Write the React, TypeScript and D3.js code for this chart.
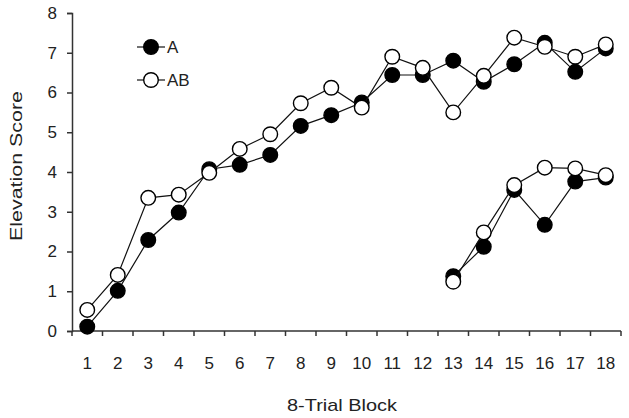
import React, { useEffect, useRef } from 'react';
import * as d3 from 'd3';

// blocks 1..18
const blocks = d3.range(1, 19).map(String);
const yTicks = [0, 1, 2, 3, 4, 5, 6, 7, 8];

// first phase (blocks 1-18)
const seriesA = [0.11, 1.01, 2.29, 2.98, 4.07, 4.18, 4.43, 5.16, 5.43, 5.75, 6.44, 6.44, 6.8, 6.27, 6.71, 7.25, 6.52, 7.11];
const seriesAB = [0.53, 1.41, 3.35, 3.43, 3.98, 4.58, 4.95, 5.73, 6.12, 5.62, 6.9, 6.62, 5.5, 6.42, 7.38, 7.15, 6.9, 7.21];
// second phase (blocks 13-18)
const blocks2 = ['13', '14', '15', '16', '17', '18'];
const seriesA2 = [1.38, 2.12, 3.55, 2.67, 3.76, 3.86];
const seriesAB2 = [1.24, 2.48, 3.67, 4.11, 4.09, 3.92];

const W = 629, H = 418;

export default function App() {
  const ref = useRef<SVGSVGElement>(null);

  useEffect(() => {
    const svg = d3.select(ref.current);
    svg.selectAll('*').remove();
    const font = 'Liberation Sans, Arial, sans-serif';
    const axisColor = '#333';
    const textColor = '#222';

    const x = d3.scaleBand().domain(blocks).range([72, 621]);
    const y = d3.scaleLinear().domain([0, 8]).range([331, 13]);
    const cx = (b: string) => (x(b) as number) + x.bandwidth() / 2;

    // y axis
    const yAxis = svg.append('g').attr('transform', 'translate(72,0)')
      .call(d3.axisLeft(y).tickValues(yTicks).tickSize(5).tickPadding(10).tickFormat(d3.format('d')));
    yAxis.select('.domain').attr('stroke', axisColor).attr('stroke-width', 1.5);
    yAxis.selectAll('line').attr('stroke', axisColor).attr('stroke-width', 1.5);
    yAxis.selectAll('text').attr('font-family', font).attr('font-size', 17).attr('fill', textColor);

    // x axis: ticks at band edges, labels at band centres
    const xg = svg.append('g').attr('transform', 'translate(0,331)');
    xg.append('line').attr('x1', 72).attr('x2', 621).attr('stroke', axisColor).attr('stroke-width', 1.5);
    const edges = blocks.map(b => x(b) as number).concat([621]);
    xg.selectAll('line.tk').data(edges).enter().append('line')
      .attr('class', 'tk').attr('x1', d => d).attr('x2', d => d).attr('y1', 0).attr('y2', 5)
      .attr('stroke', axisColor).attr('stroke-width', 1.5);
    xg.selectAll('text').data(blocks).enter().append('text')
      .attr('x', d => cx(d)).attr('y', 38).attr('text-anchor', 'middle')
      .attr('font-family', font).attr('font-size', 17).attr('fill', textColor).text(d => d);

    // titles
    svg.append('text').attr('x', 342).attr('y', 411).attr('text-anchor', 'middle')
      .attr('font-family', font).attr('font-size', 17).attr('fill', textColor)
      .attr('textLength', 110).attr('lengthAdjust', 'spacingAndGlyphs').text('8-Trial Block');
    svg.append('text').attr('transform', 'translate(22,166) rotate(-90)').attr('text-anchor', 'middle')
      .attr('font-family', font).attr('font-size', 17).attr('fill', textColor)
      .attr('textLength', 150).attr('lengthAdjust', 'spacingAndGlyphs').text('Elevation Score');

    const line = d3.line<[string, number]>().x(d => cx(d[0])).y(d => y(d[1]));

    const drawSeries = (cats: string[], vals: number[], filled: boolean) => {
      const pts = cats.map((c, i) => [c, vals[i]] as [string, number]);
      svg.append('path').datum(pts).attr('d', line).attr('fill', 'none')
        .attr('stroke', '#111').attr('stroke-width', 1.2);
      svg.append('g').selectAll('circle').data(pts).enter().append('circle')
        .attr('cx', d => cx(d[0])).attr('cy', d => y(d[1])).attr('r', 7.3)
        .attr('fill', filled ? '#000' : '#fff').attr('stroke', '#000').attr('stroke-width', 1.4);
    };

    drawSeries(blocks, seriesA, true);
    drawSeries(blocks2, seriesA2, true);
    drawSeries(blocks, seriesAB, false);
    drawSeries(blocks2, seriesAB2, false);

    // legend
    const legend = [{ label: 'A', filled: true, yy: 47 }, { label: 'AB', filled: false, yy: 80 }];
    const lg = svg.append('g');
    legend.forEach(l => {
      lg.append('line').attr('x1', 137).attr('x2', 165).attr('y1', l.yy).attr('y2', l.yy)
        .attr('stroke', '#111').attr('stroke-width', 1.2);
      lg.append('circle').attr('cx', 151).attr('cy', l.yy).attr('r', 7.3)
        .attr('fill', l.filled ? '#000' : '#fff').attr('stroke', '#000').attr('stroke-width', 1.4);
      lg.append('text').attr('x', 167).attr('y', l.yy + 6).attr('font-family', font)
        .attr('font-size', 17).attr('fill', textColor).text(l.label);
    });
  }, []);

  return (
    <svg ref={ref} width={W} height={H} style={{ display: 'block', position: 'absolute', left: 0, top: 0 }} />
  );
}
